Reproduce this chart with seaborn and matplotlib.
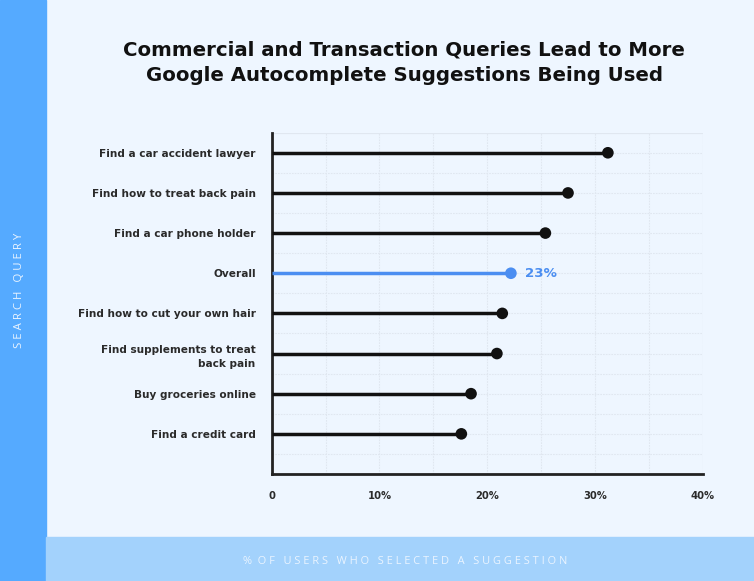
import numpy as np
import pandas as pd
import matplotlib.pyplot as plt
from matplotlib.patches import Rectangle
from matplotlib.ticker import MultipleLocator, FuncFormatter
import seaborn as sns

# Data
queries = ['Find a car accident lawyer', 'Find how to treat back pain',
           'Find a car phone holder', 'Overall', 'Find how to cut your own hair',
           'Find supplements to treat\nback pain', 'Buy groceries online',
           'Find a credit card']
share = [31.2, 27.5, 25.4, 22.2, 21.4, 20.9, 18.5, 17.6]
kind = ['query', 'query', 'query', 'overall', 'query', 'query', 'query', 'query']
overall_label = '23%'

bg = '#EEF6FF'
blue = '#4B8EF1'
ink = '#111111'
palette = {'query': ink, 'overall': blue}

df = pd.DataFrame({'query': queries, 'share': share, 'kind': kind})

sns.set_style('white')
plt.rcParams['font.family'] = ['DejaVu Sans']

fig = plt.figure(figsize=(7.54, 5.81), dpi=100, facecolor=bg)

# side / bottom bands
fig.patches.append(Rectangle((0, 0), 46 / 754, 1, transform=fig.transFigure,
                             color='#55AAFF', zorder=0))
fig.patches.append(Rectangle((46 / 754, 0), 1, 44 / 581, transform=fig.transFigure,
                             color='#A3D2FC', zorder=0))
fig.text(20 / 754, 1 - 290 / 581, 'S E A R C H   Q U E R Y', rotation=90,
         ha='center', va='center', color='#EAF4FF', fontsize=8.2,
         family=['Open Sans', 'DejaVu Sans'])
fig.text(405 / 754, 1 - 561 / 581,
         '%  O F   U S E R S   W H O   S E L E C T E D   A   S U G G E S T I O N',
         ha='center', va='center', color='#EAF4FF', fontsize=7.9,
         family=['Open Sans', 'DejaVu Sans'])

fig.text(404 / 754, 1 - 63 / 581,
         'Commercial and Transaction Queries Lead to More\nGoogle Autocomplete Suggestions Being Used',
         ha='center', va='center', fontsize=14.2, fontweight='bold', color=ink,
         linespacing=1.4)

ax = fig.add_axes([271.7 / 754, 107 / 581, 431 / 754, 341.3 / 581])
ax.set_facecolor(bg)

ax.hlines(df['query'], 0, df['share'],
          colors=[palette[k] for k in df['kind']], lw=2.5, zorder=3)
sns.scatterplot(data=df, x='share', y='query', hue='kind', palette=palette,
                s=70, edgecolor='none', legend=False, zorder=4, ax=ax)

ov = df[df['kind'] == 'overall'].iloc[0]
ax.annotate(overall_label, (ov['share'], ov['query']), xytext=(10, 0),
            textcoords='offset points', va='center', ha='left',
            color=blue, fontsize=9.6, fontweight='bold')

ax.set_xlim(0, 40)
ax.set_ylim(len(queries), -0.5)
ax.xaxis.set_major_locator(MultipleLocator(10))
ax.xaxis.set_minor_locator(MultipleLocator(5))
ax.xaxis.set_major_formatter(FuncFormatter(lambda v, p: '0' if v == 0 else f'{v:.0f}%'))
ax.yaxis.set_minor_locator(MultipleLocator(0.5))
ax.grid(True, which='both', color='#E0E7F0', lw=0.8, ls=(0, (1.5, 1)))
ax.set_axisbelow(True)

for s in ['top', 'right']:
    ax.spines[s].set_visible(False)
for s in ['left', 'bottom']:
    ax.spines[s].set_color('#222222')
    ax.spines[s].set_linewidth(2)

ax.tick_params(axis='both', which='both', length=0)
ax.tick_params(axis='y', pad=11.5)
ax.tick_params(axis='x', pad=12)
for t in ax.get_yticklabels():
    t.set_fontsize(7.6)
    t.set_fontweight('bold')
    t.set_color('#2A2A2A')
    t.set_multialignment('right')
    t.set_linespacing(1.55)
for t in ax.get_xticklabels():
    t.set_fontsize(7.2)
    t.set_fontweight('bold')
    t.set_color('#2A2A2A')
ax.set_xlabel('')
ax.set_ylabel('')

# outer grid frame
ax.axhline(-0.5, color='#E0E7F0', lw=0.8, zorder=1)
ax.axvline(40, color='#E0E7F0', lw=0.8, zorder=1)

fig.savefig('out.png', dpi=100, facecolor=bg)
